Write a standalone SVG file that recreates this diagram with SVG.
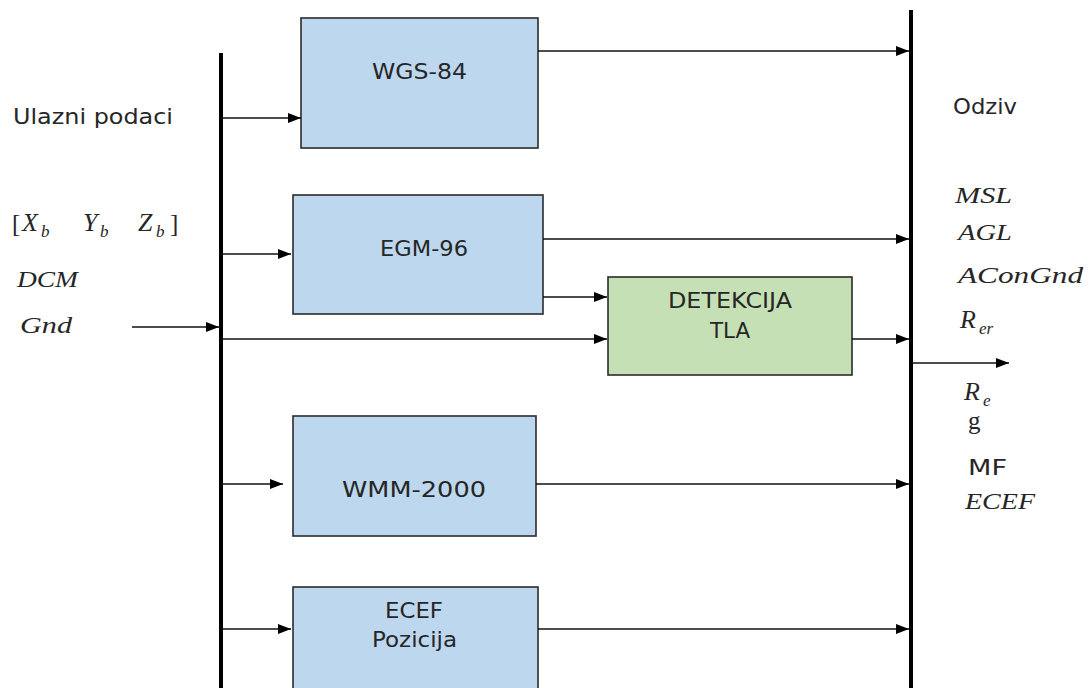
<svg xmlns="http://www.w3.org/2000/svg" width="1089" height="688" viewBox="0 0 1089 688">
<style>
.box{stroke:#2b2b2b;stroke-width:1.6}
.blue{fill:#bdd7ee}
.green{fill:#c5e0b4}
.lbl{font-family:"DejaVu Sans","Liberation Sans",sans-serif;font-size:21px;fill:#262626}
.math{font-family:"Liberation Serif","DejaVu Serif",serif;font-style:italic;font-size:23px;fill:#262626}
.big{font-size:26px}
.sub{font-family:"Liberation Serif","DejaVu Serif",serif;font-style:italic;font-size:17px;fill:#262626}
.up{font-family:"Liberation Serif","DejaVu Serif",serif;font-size:25px;fill:#262626}
.bar{stroke:#000;stroke-width:4}
.con{stroke:#111;stroke-width:1.6;fill:none;marker-end:url(#ah)}
</style>
<defs>
<marker id="ah" viewBox="0 0 10 10" refX="10" refY="5" markerWidth="13" markerHeight="10" markerUnits="userSpaceOnUse" orient="auto" preserveAspectRatio="none">
<path d="M0,0 L10,5 L0,10 Z" fill="#000"/>
</marker>
</defs>
<rect width="1089" height="688" fill="#fff"/>
<g id="bus-in"><line class="bar" x1="221" y1="53" x2="221" y2="688"/></g>
<g id="bus-out"><line class="bar" x1="911" y1="10" x2="911" y2="688"/></g>
<g id="wgs84"><rect class="box blue" x="301" y="18" width="237" height="130"/><text class="lbl" x="372" y="79" textLength="95" lengthAdjust="spacingAndGlyphs">WGS-84</text></g>
<g id="egm96"><rect class="box blue" x="293" y="195" width="250" height="119"/><text class="lbl" x="380" y="256" textLength="88" lengthAdjust="spacingAndGlyphs">EGM-96</text></g>
<g id="detekcija"><rect class="box green" x="608" y="277" width="244" height="98"/><text class="lbl" x="668" y="308" textLength="124" lengthAdjust="spacingAndGlyphs">DETEKCIJA</text><text class="lbl" x="710" y="338" textLength="40" lengthAdjust="spacingAndGlyphs">TLA</text></g>
<g id="wmm2000"><rect class="box blue" x="293" y="416" width="243" height="120"/><text class="lbl" x="342" y="497" textLength="144" lengthAdjust="spacingAndGlyphs">WMM-2000</text></g>
<g id="ecef"><rect class="box blue" x="293" y="587" width="245" height="110"/><text class="lbl" x="385" y="618" textLength="58" lengthAdjust="spacingAndGlyphs">ECEF</text><text class="lbl" x="372" y="647" textLength="85" lengthAdjust="spacingAndGlyphs">Pozicija</text></g>
<g id="connectors">
<line class="con" x1="221" y1="118" x2="301" y2="118"/>
<line class="con" x1="538" y1="51" x2="909" y2="51"/>
<line class="con" x1="221" y1="254" x2="291" y2="254"/>
<line class="con" x1="543" y1="239" x2="909" y2="239"/>
<line class="con" x1="543" y1="297" x2="607" y2="297"/>
<line class="con" x1="132" y1="327" x2="219" y2="327"/>
<line class="con" x1="221" y1="339" x2="607" y2="339"/>
<line class="con" x1="852" y1="339" x2="909" y2="339"/>
<line class="con" x1="911" y1="363" x2="1009" y2="363"/>
<line class="con" x1="221" y1="484" x2="283" y2="484"/>
<line class="con" x1="536" y1="484" x2="909" y2="484"/>
<line class="con" x1="221" y1="629" x2="291" y2="629"/>
<line class="con" x1="538" y1="629" x2="909" y2="629"/>
</g>
<g id="inputs">
<text class="lbl" x="13" y="124" textLength="160" lengthAdjust="spacingAndGlyphs">Ulazni podaci</text>
<text class="up" x="12" y="232">[</text>
<text class="math big" x="22" y="231">X</text><text class="sub" x="41" y="237">b</text>
<text class="math big" x="83" y="231">Y</text><text class="sub" x="100" y="237">b</text>
<text class="math big" x="138" y="231">Z</text><text class="sub" x="156" y="237">b</text>
<text class="up" x="170" y="232">]</text>
<text class="math" x="17" y="287" textLength="61" lengthAdjust="spacingAndGlyphs">DCM</text>
<text class="math" x="20" y="333" textLength="52" lengthAdjust="spacingAndGlyphs">Gnd</text>
</g>
<g id="outputs">
<text class="lbl" x="953" y="114" textLength="64" lengthAdjust="spacingAndGlyphs">Odziv</text>
<text class="math" x="955" y="203" textLength="57" lengthAdjust="spacingAndGlyphs">MSL</text>
<text class="math" x="958" y="240" textLength="54" lengthAdjust="spacingAndGlyphs">AGL</text>
<text class="math" x="958" y="283" textLength="125" lengthAdjust="spacingAndGlyphs">AConGnd</text>
<text class="math big" x="960" y="328">R</text><text class="sub" x="979" y="334">er</text>
<text class="math big" x="964" y="400">R</text><text class="sub" x="983" y="406">e</text>
<text class="up" x="968" y="429">g</text>
<text class="lbl" x="968" y="475" textLength="39" lengthAdjust="spacingAndGlyphs">MF</text>
<text class="math" x="965" y="509" textLength="70" lengthAdjust="spacingAndGlyphs">ECEF</text>
</g>
</svg>
